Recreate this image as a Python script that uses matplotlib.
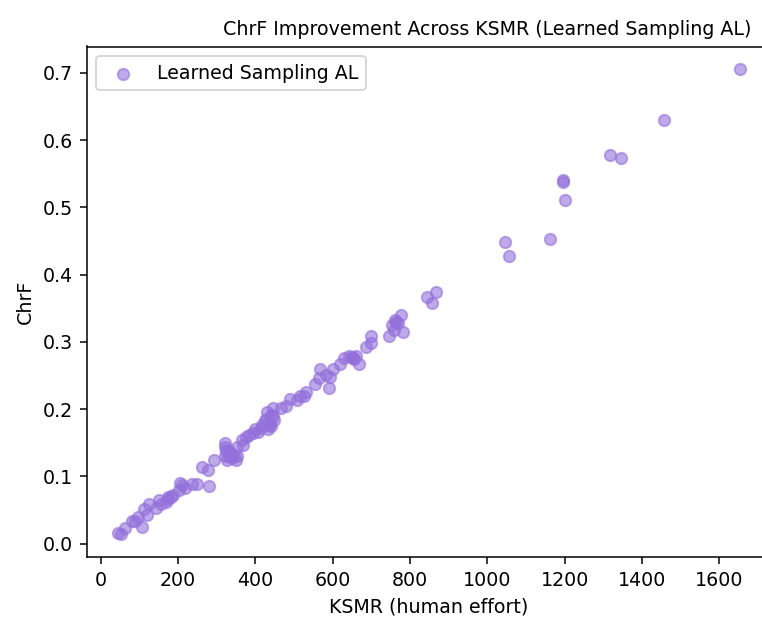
import matplotlib
matplotlib.use("Agg")
import matplotlib.pyplot as plt

ksmr = [1653, 1456, 1317, 1345, 1196, 1196, 1201, 1162, 1046, 1057,
        868, 845, 856, 776, 781, 763, 753, 758, 747, 698, 686, 698,
        667, 660, 652, 642, 629, 619, 601, 593, 582, 567, 564, 590, 554,
        531, 526, 515, 508, 490, 479, 466, 446, 441, 430, 425, 438, 448,
        418, 407, 415, 434, 440, 384, 376, 366, 369, 353, 345, 335, 322,
        322, 327, 350, 353, 322, 330, 340, 294, 278, 263, 281, 250, 237,
        219, 211, 204, 183, 173, 168, 152, 157, 144, 126, 113, 98, 119,
        108, 44, 54, 64, 82, 90, 175, 188, 205, 395, 400, 430, 445, 436,
        650, 655, 760, 770, 325, 332]
chrf = [0.705, 0.630, 0.577, 0.574, 0.541, 0.537, 0.511, 0.453, 0.449, 0.428,
        0.374, 0.367, 0.358, 0.340, 0.314, 0.330, 0.325, 0.318, 0.308, 0.299, 0.293, 0.309,
        0.267, 0.279, 0.276, 0.279, 0.276, 0.267, 0.259, 0.248, 0.251, 0.259, 0.247, 0.232, 0.238,
        0.226, 0.220, 0.220, 0.214, 0.215, 0.205, 0.201, 0.201, 0.192, 0.196, 0.184, 0.178, 0.184,
        0.177, 0.166, 0.172, 0.170, 0.175, 0.162, 0.158, 0.154, 0.147, 0.144, 0.132, 0.137, 0.143,
        0.131, 0.125, 0.125, 0.131, 0.150, 0.140, 0.128, 0.125, 0.110, 0.114, 0.086, 0.089, 0.089,
        0.083, 0.088, 0.080, 0.070, 0.070, 0.062, 0.065, 0.059, 0.053, 0.059, 0.051, 0.040, 0.042,
        0.025, 0.016, 0.015, 0.024, 0.034, 0.034, 0.066, 0.073, 0.090, 0.165, 0.170, 0.185, 0.190, 0.176,
        0.277, 0.275, 0.333, 0.328, 0.138, 0.130]

DPI = 137
W, H = 762, 620
fig = plt.figure(figsize=(W/DPI, H/DPI), dpi=DPI)
left, right, top, bottom = 86.5, 771, 46.5, 557.3
ax = fig.add_axes([left/W, 1-bottom/H, (right-left)/W, (bottom-top)/H])
ax.scatter(ksmr, chrf, s=36, color="mediumpurple", alpha=0.6, label="Learned Sampling AL")
ax.set_ylim(-0.0202, 0.739)
ax.set_title("ChrF Improvement Across KSMR (Learned Sampling AL)", fontsize=10,
             x=(487 - left) / (right - left))
ax.set_xlabel("KSMR (human effort)")
ax.set_ylabel("ChrF")
ax.legend(loc="upper left")
fig.savefig("out.png", dpi=DPI)
